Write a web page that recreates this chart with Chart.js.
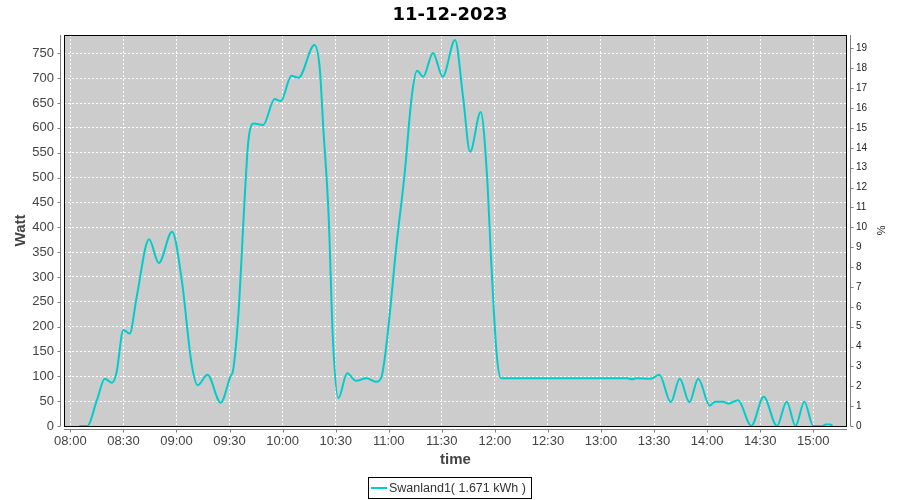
<!DOCTYPE html>
<html>
<head>
<meta charset="utf-8">
<title>11-12-2023</title>
<script src="https://cdn.jsdelivr.net/npm/chart.js@4.4.0/dist/chart.umd.min.js"></script>
<style>
  body { margin: 0; background: #fff; }
  #wrap { width: 900px; height: 500px; }
</style>
</head>
<body>
<div id="wrap"><canvas id="chart" width="900" height="500"></canvas></div>
<script>
// Dati: ora di misura e potenza in Watt
const chartTitle = "11-12-2023";
const seriesLabel = "Swanland1( 1.671 kWh )";

const times = [
  "08:05:00", "08:09:30", "08:15:00", "08:19:30", "08:23:30", "08:26:00", "08:30:00", "08:33:30", "08:37:30", "08:44:30",
  "08:50:00", "08:57:30", "09:03:00", "09:08:30", "09:12:00", "09:17:30", "09:25:00", "09:30:30", "09:32:00", "09:35:00",
  "09:38:30", "09:40:30", "09:43:30", "09:49:00", "09:55:30", "09:59:00", "10:05:00", "10:09:00", "10:18:00", "10:21:00",
  "10:23:00", "10:26:00", "10:28:30", "10:31:30", "10:36:30", "10:41:30", "10:47:30", "10:53:00", "10:56:00", "10:59:00",
  "11:04:30", "11:09:00", "11:13:00", "11:16:00", "11:19:30", "11:25:00", "11:30:30", "11:37:30", "11:42:00", "11:46:00",
  "11:52:00", "11:55:30", "11:58:00", "12:01:00", "12:03:30", "12:30:00", "13:00:00", "13:15:00", "13:17:30", "13:20:00",
  "13:28:00", "13:33:00", "13:39:30", "13:44:30", "13:50:00", "13:55:00", "14:01:30", "14:04:30", "14:09:00", "14:12:00",
  "14:17:30", "14:25:00", "14:32:00", "14:39:30", "14:45:00", "14:50:00", "14:55:00", "15:00:00", "15:05:00", "15:07:00",
  "15:09:30", "15:11:00"
];
const watts = [
  0, 0, 52, 95, 87, 106, 193, 186, 260, 376,
  328, 391, 293, 126, 82, 103, 47, 100, 112, 225,
  455, 569, 609, 606, 658, 654, 705, 701, 767, 720,
  600, 425, 170, 56, 106, 91, 96, 89, 100, 173,
  368, 508, 663, 715, 703, 751, 703, 777, 663, 552,
  632, 508, 327, 146, 96, 96, 96, 96, 94, 96,
  95, 103, 48, 95, 48, 95, 41, 49, 49, 45,
  52, 0, 59, 0, 49, 0, 49, 0, 0, 3,
  3, 0
];

const timeTicks = ["08:00", "08:30", "09:00", "09:30", "10:00", "10:30", "11:00", "11:30",
  "12:00", "12:30", "13:00", "13:30", "14:00", "14:30", "15:00"];
const timeStart = "07:56:24";
const timeEnd = "15:19:06";
const wattMax = 787;
const wattPerPercent = 40;

// minuti dalle 08:00
function toMinutes(hhmmss) {
  const [h, m, s] = hhmmss.split(":").map(Number);
  return (h - 8) * 60 + m + (s || 0) / 60;
}

const points = times.map((t, i) => ({ x: toMinutes(t), y: watts[i] }));
const lineColor = "#00cccc";
const tickFont = { family: "'Liberation Sans', Arial, sans-serif", size: 13 };

// sfondo, bordo del plot, assi staccati e legenda con cornice
const plotFrame = {
  id: "plotFrame",
  beforeDraw(chart) {
    const { ctx, chartArea: a } = chart;
    ctx.save();
    ctx.fillStyle = "#cccccc";
    ctx.fillRect(a.left, a.top, a.right - a.left, a.bottom - a.top);
    ctx.restore();
  },
  afterDraw(chart) {
    const { ctx, chartArea: a, scales } = chart;
    ctx.save();
    ctx.lineWidth = 1;
    ctx.strokeStyle = "#000";
    ctx.strokeRect(a.left + 0.5, a.top + 0.5, a.right - a.left - 1, a.bottom - a.top);

    ctx.strokeStyle = "#808080";
    ctx.beginPath();
    const lx = a.left - 3.5;
    ctx.moveTo(lx, a.top);
    ctx.lineTo(lx, a.bottom);
    scales.y.ticks.forEach((t) => {
      const y = Math.round(scales.y.getPixelForValue(t.value)) + 0.5;
      ctx.moveTo(lx - 3, y);
      ctx.lineTo(lx, y);
    });
    const by = a.bottom + 3.5;
    ctx.moveTo(a.left, by);
    ctx.lineTo(a.right, by);
    scales.x.ticks.forEach((t) => {
      const x = Math.round(scales.x.getPixelForValue(t.value)) + 0.5;
      ctx.moveTo(x, by);
      ctx.lineTo(x, by + 3);
    });
    const rx = a.right + 3.5;
    ctx.moveTo(rx, a.top);
    ctx.lineTo(rx, a.bottom);
    scales.y2.ticks.forEach((t) => {
      const y = Math.round(scales.y2.getPixelForValue(t.value)) + 0.5;
      ctx.moveTo(rx, y);
      ctx.lineTo(rx + 3, y);
    });
    ctx.stroke();

    // legenda
    ctx.fillStyle = "#fff";
    ctx.fillRect(368.5, 477.5, 163, 21);
    ctx.strokeStyle = "#000";
    ctx.strokeRect(368.5, 477.5, 163, 21);
    ctx.strokeStyle = lineColor;
    ctx.lineWidth = 2;
    ctx.beginPath();
    ctx.moveTo(371, 488);
    ctx.lineTo(387, 488);
    ctx.stroke();
    ctx.fillStyle = "#333";
    ctx.font = "12.5px 'Liberation Sans', Arial, sans-serif";
    ctx.textBaseline = "middle";
    ctx.textAlign = "left";
    ctx.fillText(seriesLabel, 389, 488.5);
    ctx.restore();
  },
};

new Chart(document.getElementById("chart"), {
  type: "line",
  data: {
    datasets: [
      {
        label: seriesLabel,
        data: points,
        borderColor: lineColor,
        backgroundColor: lineColor,
        borderWidth: 2,
        pointRadius: 0,
        fill: false,
        cubicInterpolationMode: "monotone",
      },
    ],
  },
  options: {
    responsive: false,
    animation: false,
    devicePixelRatio: 1,
    layout: { padding: { left: 0, right: 0, top: 0, bottom: 30 } },
    plugins: {
      legend: { display: false },
      tooltip: { enabled: false },
      title: {
        display: true,
        text: chartTitle,
        color: "#000",
        font: { family: "'DejaVu Sans', sans-serif", size: 18, weight: "bold" },
        padding: { top: 5, bottom: 8.4 },
      },
    },
    scales: {
      x: {
        type: "linear",
        min: toMinutes(timeStart),
        max: toMinutes(timeEnd),
        afterBuildTicks: (scale) => {
          scale.ticks = timeTicks.map((t) => ({ value: toMinutes(t) }));
        },
        afterFit: (scale) => { scale.height = 44; },
        ticks: {
          autoSkip: false,
          maxRotation: 0,
          padding: 8,
          color: "#444",
          font: tickFont,
          callback: (value, index) => timeTicks[index],
        },
        grid: { color: "#ffffff", drawTicks: false },
        border: { display: false, dash: [2, 2] },
        title: {
          display: true,
          text: "time",
          color: "#444",
          font: { family: "'Liberation Sans', Arial, sans-serif", size: 15, weight: "bold" },
          padding: { top: 0, bottom: 1 },
        },
      },
      y: {
        position: "left",
        min: 0,
        max: wattMax,
        afterFit: (scale) => { scale.width = 64; },
        ticks: { stepSize: 50, includeBounds: false, padding: 10, color: "#444", font: tickFont },
        grid: { color: "#ffffff", drawTicks: false },
        border: { display: false, dash: [2, 2] },
        title: {
          display: true,
          text: "Watt",
          color: "#444",
          font: { family: "'Liberation Sans', Arial, sans-serif", size: 15, weight: "bold" },
          padding: { top: 11.5, bottom: 0 },
        },
      },
      y2: {
        position: "right",
        min: 0,
        max: wattMax / wattPerPercent,
        afterFit: (scale) => { scale.width = 53; },
        ticks: {
          stepSize: 1,
          includeBounds: false,
          padding: 9,
          color: "#222",
          font: { family: "'Liberation Sans', Arial, sans-serif", size: 10 },
        },
        grid: { drawOnChartArea: false, drawTicks: false },
        border: { display: false },
        title: {
          display: true,
          text: "%",
          color: "#222",
          font: { family: "'Liberation Sans', Arial, sans-serif", size: 11 },
          padding: { top: 13.4, bottom: 0 },
        },
      },
    },
  },
  plugins: [plotFrame],
});
</script>
</body>
</html>
